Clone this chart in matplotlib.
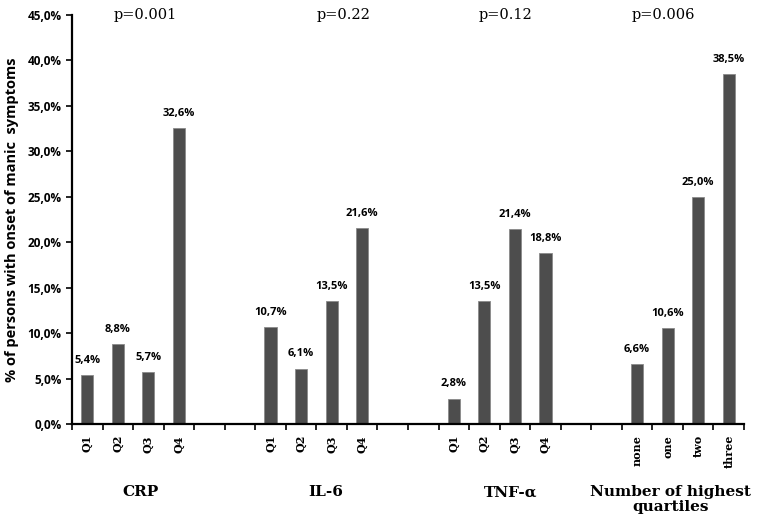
import matplotlib.pyplot as plt
import numpy as np

# bar slots: 4 bars per group, 2 empty slots between groups
cat_labels = ["Q1", "Q2", "Q3", "Q4", "", "",
              "Q1", "Q2", "Q3", "Q4", "", "",
              "Q1", "Q2", "Q3", "Q4", "", "",
              "none", "one", "two", "three"]
values = [5.4, 8.8, 5.7, 32.6, None, None,
          10.7, 6.1, 13.5, 21.6, None, None,
          2.8, 13.5, 21.4, 18.8, None, None,
          6.6, 10.6, 25.0, 38.5]
groups = ["CRP", "IL-6", "TNF-\u03b1", "Number of highest\nquartiles"]
group_pos = [1.75, 7.8, 13.85, 19.1]
pvalues = ["p=0.001", "p=0.22", "p=0.12", "p=0.006"]
p_pos = [1.9, 8.4, 13.7, 18.85]

fig = plt.figure(figsize=(7.58, 5.16), dpi=100)
ax = fig.add_axes([72/758, 1-424/516, (744-72)/758, (424-15)/516])

x = np.arange(len(cat_labels))
for xi, v in zip(x, values):
    if v is None:
        continue
    ax.bar(xi, v, width=0.4, color="#4d4d4d", edgecolor="#8a8a8a", linewidth=0.6)
    ax.text(xi, v + 1.0, f"{v:.1f}%".replace(".", ","), ha="center", va="bottom",
            fontsize=8, fontweight="bold", family="Open Sans")

ax.set_xlim(-0.5, len(cat_labels) - 0.5)
ax.set_ylim(0, 45)
yt = np.arange(0, 46, 5)
ax.set_yticks(yt)
ax.set_yticklabels([f"{t:.1f}%".replace(".", ",") for t in yt],
                   fontsize=8.5, fontweight="bold", family="Open Sans")
ax.set_ylabel("% of persons with onset of manic  symptoms", fontsize=10.5,
              fontweight="bold", family="Open Sans", labelpad=6)

ax.set_xticks(x)
ax.set_xticklabels(cat_labels, rotation=90, fontsize=8, fontweight="bold",
                   family="DejaVu Serif")
ax.tick_params(axis="x", which="major", length=0, pad=8)
ax.set_xticks(np.arange(-0.5, len(cat_labels), 1), minor=True)
ax.tick_params(axis="x", which="minor", length=4, width=1.2, direction="out")
ax.tick_params(axis="y", length=4, width=1.2, direction="out")

for s in ["top", "right"]:
    ax.spines[s].set_visible(False)
for s in ["left", "bottom"]:
    ax.spines[s].set_linewidth(1.6)

for g, gx in zip(groups, group_pos):
    ax.text(gx, -0.15, g, transform=ax.get_xaxis_transform(), ha="center",
            va="top", fontsize=11, fontweight="bold", family="DejaVu Serif",
            linespacing=1.1)
for p, px in zip(pvalues, p_pos):
    ax.text(px, 45, p, ha="center", va="center", fontsize=10.5,
            family="DejaVu Serif")

fig.savefig("out.png", dpi=100)
